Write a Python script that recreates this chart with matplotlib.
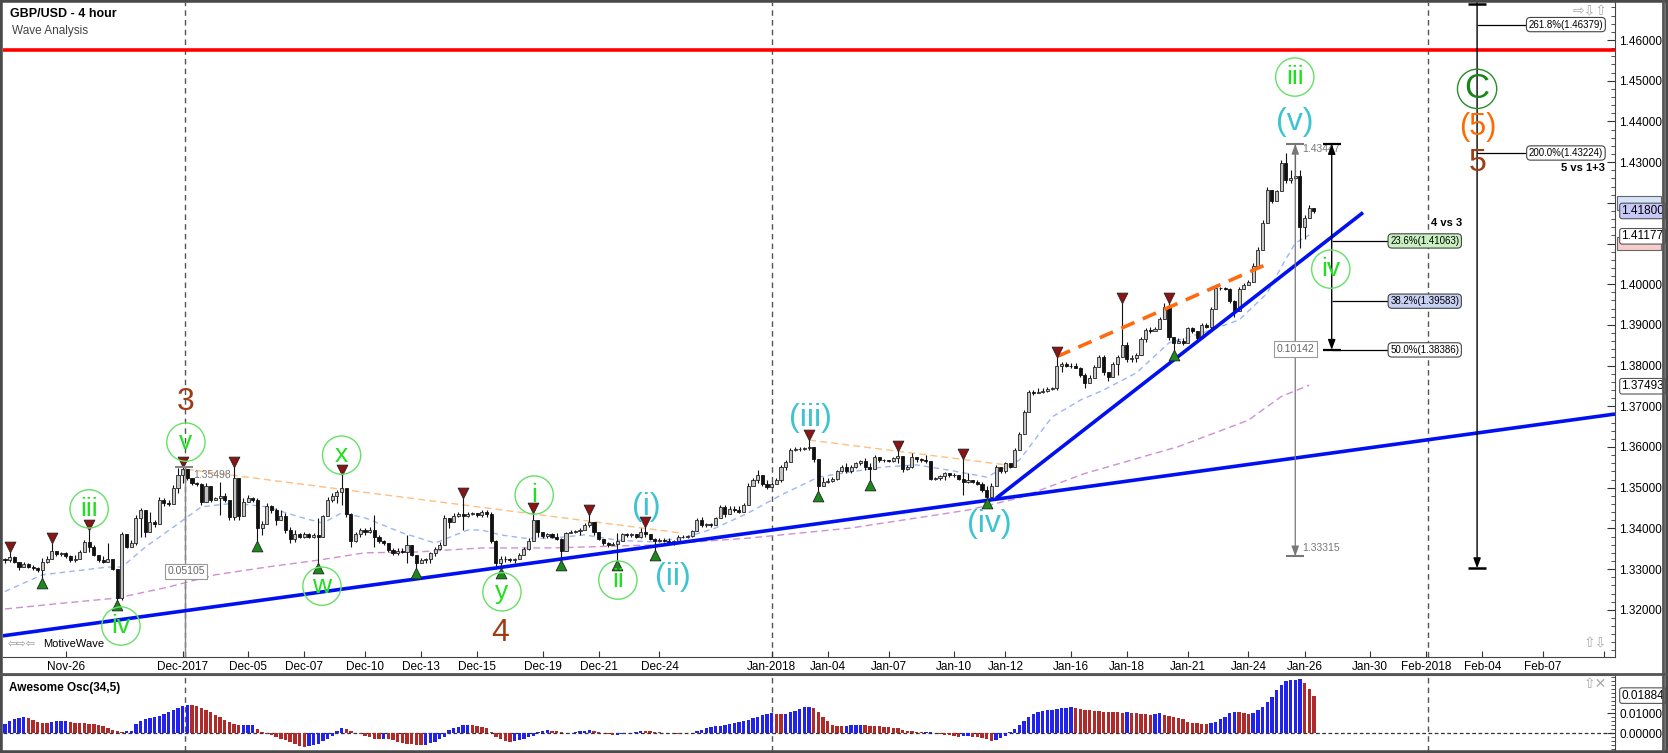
import numpy as np
import matplotlib
matplotlib.use("Agg")
import matplotlib.pyplot as plt
import matplotlib.transforms as mtrans
from matplotlib.lines import Line2D
from matplotlib.patches import Rectangle
from matplotlib.ticker import FixedLocator, MultipleLocator, FuncFormatter

plt.rcParams['font.family'] = ['Liberation Sans', 'DejaVu Sans']

# ---- candles (4h bars, index = bar number) ----
first_open = 1.3325
close = [
    1.3322, 1.3330, 1.3318, 1.3305, 1.3312, 1.3306, 1.3302, 1.3298, 1.3318, 1.3325,
    1.3345, 1.3337, 1.3339, 1.3331, 1.3322, 1.3325, 1.3343, 1.3367, 1.3355, 1.3335,
    1.3322, 1.3318, 1.3325, 1.3300, 1.3230, 1.3385, 1.3355, 1.3363, 1.3425, 1.3445,
    1.3390, 1.3415, 1.3410, 1.3470, 1.3462, 1.3460, 1.3500, 1.3530, 1.3545, 1.3525,
    1.3512, 1.3508, 1.3465, 1.3505, 1.3470, 1.3475, 1.3480, 1.3470, 1.3428, 1.3525,
    1.3430, 1.3465, 1.3475, 1.3470, 1.3400, 1.3410, 1.3455, 1.3445, 1.3420, 1.3430,
    1.3395, 1.3375, 1.3385, 1.3380, 1.3385, 1.3380, 1.3383, 1.3378, 1.3430, 1.3470,
    1.3480, 1.3490, 1.3500, 1.3435, 1.3370, 1.3385, 1.3395, 1.3390, 1.3395, 1.3380,
    1.3370, 1.3363, 1.3347, 1.3340, 1.3345, 1.3343, 1.3360, 1.3335, 1.3315, 1.3322,
    1.3325, 1.3340, 1.3350, 1.3360, 1.3425, 1.3415, 1.3430, 1.3435, 1.3430, 1.3435,
    1.3437, 1.3432, 1.3440, 1.3435, 1.3370, 1.3315, 1.3325, 1.3325, 1.3322, 1.3325,
    1.3335, 1.3350, 1.3370, 1.3420, 1.3390, 1.3382, 1.3385, 1.3380, 1.3375, 1.3345,
    1.3388, 1.3392, 1.3393, 1.3395, 1.3408, 1.3415, 1.3390, 1.3375, 1.3363, 1.3360,
    1.3362, 1.3370, 1.3385, 1.3384, 1.3386, 1.3380, 1.3390, 1.3386, 1.3375, 1.3368,
    1.3372, 1.3370, 1.3366, 1.3368, 1.3380, 1.3378, 1.3382, 1.3394, 1.3420, 1.3408,
    1.3410, 1.3409, 1.3425, 1.3452, 1.3435, 1.3448, 1.3446, 1.3440, 1.3458, 1.3505,
    1.3518, 1.3530, 1.3508, 1.3502, 1.3510, 1.3520, 1.3550, 1.3562, 1.3592, 1.3595,
    1.3596, 1.3597, 1.3600, 1.3570, 1.3505, 1.3515, 1.3516, 1.3522, 1.3540, 1.3550,
    1.3540, 1.3552, 1.3560, 1.3565, 1.3550, 1.3545, 1.3575, 1.3568, 1.3567, 1.3566,
    1.3572, 1.3578, 1.3545, 1.3550, 1.3575, 1.3570, 1.3568, 1.3565, 1.3522, 1.3523,
    1.3528, 1.3535, 1.3530, 1.3532, 1.3522, 1.3515, 1.3520, 1.3514, 1.3510, 1.3495,
    1.3478, 1.3505, 1.3550, 1.3540, 1.3560, 1.3552, 1.3592, 1.3633, 1.3685, 1.3735,
    1.3733, 1.3736, 1.3738, 1.3742, 1.3745, 1.3800, 1.3805, 1.3800, 1.3798, 1.3795,
    1.3778, 1.3758, 1.3770, 1.3797, 1.3820, 1.3785, 1.3772, 1.3805, 1.3820, 1.3850,
    1.3815, 1.3818, 1.3826, 1.3866, 1.3888, 1.3885, 1.3890, 1.3915, 1.3945, 1.3870,
    1.3855, 1.3860, 1.3855, 1.3892, 1.3884, 1.3868, 1.3900, 1.3896, 1.3940, 1.3990,
    1.3990, 1.3988, 1.3958, 1.3935, 1.3988, 1.3998, 1.4005, 1.4045, 1.4085, 1.4150,
    1.4232, 1.4205, 1.4228, 1.4298, 1.4255, 1.4260, 1.4265, 1.4141, 1.4162, 1.4188, 1.4180,
]
high = [
    1.3327, 1.3343, 1.3331, 1.3318, 1.3318, 1.3314, 1.3310, 1.3306, 1.3327, 1.3331,
    1.3363, 1.3343, 1.3343, 1.3343, 1.3335, 1.3335, 1.3347, 1.3371, 1.3396, 1.3359,
    1.3335, 1.3331, 1.3363, 1.3318, 1.3298, 1.3392, 1.3367, 1.3371, 1.3433, 1.3449,
    1.3437, 1.3441, 1.3421, 1.3478, 1.3474, 1.3470, 1.3507, 1.3548, 1.3550, 1.3544,
    1.3523, 1.3515, 1.3511, 1.3511, 1.3490, 1.3478, 1.3515, 1.3486, 1.3470, 1.3552,
    1.3511, 1.3474, 1.3482, 1.3478, 1.3474, 1.3417, 1.3462, 1.3458, 1.3449, 1.3445,
    1.3437, 1.3404, 1.3396, 1.3388, 1.3392, 1.3388, 1.3388, 1.3425, 1.3433, 1.3478,
    1.3486, 1.3494, 1.3531, 1.3498, 1.3437, 1.3392, 1.3400, 1.3400, 1.3404, 1.3433,
    1.3384, 1.3371, 1.3363, 1.3351, 1.3351, 1.3351, 1.3384, 1.3359, 1.3331, 1.3327,
    1.3327, 1.3343, 1.3355, 1.3367, 1.3433, 1.3421, 1.3437, 1.3441, 1.3474, 1.3441,
    1.3441, 1.3437, 1.3445, 1.3445, 1.3441, 1.3371, 1.3331, 1.3331, 1.3327, 1.3327,
    1.3339, 1.3355, 1.3376, 1.3437, 1.3396, 1.3388, 1.3388, 1.3388, 1.3388, 1.3376,
    1.3392, 1.3396, 1.3396, 1.3400, 1.3413, 1.3433, 1.3413, 1.3388, 1.3371, 1.3367,
    1.3367, 1.3388, 1.3388, 1.3388, 1.3388, 1.3384, 1.3400, 1.3404, 1.3384, 1.3376,
    1.3376, 1.3376, 1.3376, 1.3371, 1.3384, 1.3384, 1.3384, 1.3396, 1.3425, 1.3429,
    1.3413, 1.3413, 1.3429, 1.3458, 1.3458, 1.3454, 1.3454, 1.3454, 1.3462, 1.3511,
    1.3523, 1.3544, 1.3531, 1.3519, 1.3515, 1.3523, 1.3556, 1.3568, 1.3597, 1.3601,
    1.3601, 1.3601, 1.3617, 1.3597, 1.3568, 1.3527, 1.3523, 1.3527, 1.3544, 1.3556,
    1.3560, 1.3556, 1.3564, 1.3568, 1.3572, 1.3560, 1.3580, 1.3572, 1.3570, 1.3568,
    1.3576, 1.3589, 1.3564, 1.3556, 1.3585, 1.3572, 1.3572, 1.3580, 1.3556, 1.3527,
    1.3531, 1.3539, 1.3535, 1.3535, 1.3531, 1.3570, 1.3535, 1.3519, 1.3519, 1.3515,
    1.3503, 1.3511, 1.3556, 1.3548, 1.3564, 1.3560, 1.3597, 1.3638, 1.3691, 1.3740,
    1.3740, 1.3744, 1.3744, 1.3748, 1.3748, 1.3822, 1.3810, 1.3810, 1.3806, 1.3806,
    1.3797, 1.3781, 1.3777, 1.3801, 1.3826, 1.3826, 1.3785, 1.3810, 1.3826, 1.3953,
    1.3859, 1.3826, 1.3830, 1.3871, 1.3892, 1.3896, 1.3896, 1.3920, 1.3953, 1.3955,
    1.3867, 1.3867, 1.3867, 1.3896, 1.3896, 1.3884, 1.3904, 1.3904, 1.3945, 1.3994,
    1.3994, 1.3994, 1.3990, 1.3961, 1.3994, 1.4002, 1.4010, 1.4051, 1.4092, 1.4158,
    1.4240, 1.4215, 1.4232, 1.4305, 1.4322, 1.4281, 1.4345, 1.4281, 1.4170, 1.4194, 1.4186,
]
low = [
    1.3316, 1.3318, 1.3314, 1.3298, 1.3306, 1.3302, 1.3298, 1.3294, 1.3277, 1.3314,
    1.3331, 1.3331, 1.3331, 1.3327, 1.3318, 1.3318, 1.3327, 1.3343, 1.3343, 1.3331,
    1.3318, 1.3314, 1.3318, 1.3298, 1.3224, 1.3224, 1.3351, 1.3359, 1.3359, 1.3380,
    1.3380, 1.3409, 1.3404, 1.3413, 1.3454, 1.3454, 1.3462, 1.3486, 1.3511, 1.3519,
    1.3507, 1.3503, 1.3458, 1.3494, 1.3466, 1.3470, 1.3433, 1.3466, 1.3421, 1.3421,
    1.3421, 1.3458, 1.3466, 1.3466, 1.3370, 1.3384, 1.3413, 1.3437, 1.3409, 1.3421,
    1.3388, 1.3363, 1.3367, 1.3376, 1.3376, 1.3376, 1.3376, 1.3314, 1.3380, 1.3433,
    1.3466, 1.3462, 1.3458, 1.3429, 1.3355, 1.3367, 1.3380, 1.3384, 1.3388, 1.3355,
    1.3363, 1.3359, 1.3343, 1.3335, 1.3335, 1.3339, 1.3314, 1.3331, 1.3302, 1.3318,
    1.3314, 1.3314, 1.3331, 1.3347, 1.3367, 1.3400, 1.3417, 1.3429, 1.3396, 1.3429,
    1.3433, 1.3429, 1.3429, 1.3429, 1.3363, 1.3306, 1.3302, 1.3318, 1.3318, 1.3314,
    1.3327, 1.3335, 1.3347, 1.3371, 1.3380, 1.3376, 1.3376, 1.3376, 1.3371, 1.3322,
    1.3363, 1.3388, 1.3388, 1.3384, 1.3396, 1.3404, 1.3384, 1.3371, 1.3359, 1.3355,
    1.3359, 1.3322, 1.3376, 1.3380, 1.3380, 1.3376, 1.3376, 1.3380, 1.3371, 1.3347,
    1.3367, 1.3367, 1.3363, 1.3359, 1.3371, 1.3376, 1.3376, 1.3380, 1.3396, 1.3404,
    1.3404, 1.3404, 1.3409, 1.3425, 1.3429, 1.3441, 1.3441, 1.3437, 1.3449, 1.3462,
    1.3507, 1.3511, 1.3503, 1.3498, 1.3507, 1.3515, 1.3515, 1.3544, 1.3568, 1.3589,
    1.3589, 1.3593, 1.3593, 1.3564, 1.3493, 1.3511, 1.3511, 1.3515, 1.3519, 1.3539,
    1.3535, 1.3535, 1.3548, 1.3556, 1.3544, 1.3520, 1.3556, 1.3564, 1.3564, 1.3564,
    1.3564, 1.3560, 1.3539, 1.3544, 1.3548, 1.3564, 1.3564, 1.3560, 1.3519, 1.3519,
    1.3519, 1.3519, 1.3527, 1.3527, 1.3519, 1.3482, 1.3511, 1.3511, 1.3507, 1.3490,
    1.3474, 1.3478, 1.3511, 1.3535, 1.3535, 1.3548, 1.3552, 1.3593, 1.3634, 1.3691,
    1.3728, 1.3732, 1.3732, 1.3736, 1.3740, 1.3740, 1.3785, 1.3797, 1.3793, 1.3793,
    1.3773, 1.3744, 1.3765, 1.3773, 1.3797, 1.3777, 1.3761, 1.3777, 1.3777, 1.3822,
    1.3810, 1.3810, 1.3810, 1.3826, 1.3859, 1.3879, 1.3888, 1.3892, 1.3916, 1.3863,
    1.3838, 1.3855, 1.3851, 1.3875, 1.3879, 1.3863, 1.3879, 1.3892, 1.3888, 1.3941,
    1.3986, 1.3986, 1.3953, 1.3920, 1.3953, 1.3990, 1.3998, 1.4010, 1.4043, 1.4088,
    1.4154, 1.4199, 1.4211, 1.4232, 1.4248, 1.4248, 1.4256, 1.4088, 1.4112, 1.4166, 1.4174,
]

# Awesome Oscillator (34,5)
ao_vals = [
    0.0047, 0.0063, 0.0073, 0.0078, 0.0080, 0.0075, 0.0067, 0.0057, 0.0053, 0.0052,
    0.0057, 0.0060, 0.0062, 0.0063, 0.0058, 0.0054, 0.0052, 0.0050, 0.0049, 0.0047,
    0.0043, 0.0036, 0.0028, 0.0015, 0.0010, 0.0008, 0.0010, 0.0013, 0.0045, 0.0060,
    0.0070, 0.0075, 0.0080, 0.0088, 0.0095, 0.0105, 0.0118, 0.0128, 0.0138, 0.0142,
    0.0140, 0.0136, 0.0128, 0.0118, 0.0105, 0.0092, 0.0080, 0.0068, 0.0058, 0.0048,
    0.0040, 0.0042, 0.0043, 0.0044, 0.0020, 0.0005, -0.0005, -0.0010, -0.0018, -0.0026,
    -0.0035, -0.0045, -0.0055, -0.0063, -0.0066, -0.0065, -0.0060, -0.0052, -0.0040, -0.0028,
    -0.0012, 0.0012, 0.0028, 0.0022, 0.0012, 0.0004, -0.0004, -0.0012, -0.0020, -0.0026,
    -0.0028, -0.0027, -0.0029, -0.0033, -0.0045, -0.0050, -0.0053, -0.0055, -0.0057, -0.0058,
    -0.0057, -0.0050, -0.0042, -0.0030, -0.0017, 0.0015, 0.0025, 0.0033, 0.0040, 0.0042,
    0.0041, 0.0038, 0.0032, 0.0025, 0.0008, -0.0017, -0.0030, -0.0040, -0.0042, -0.0038,
    -0.0033, -0.0027, -0.0020, -0.0015, 0.0008, 0.0013, 0.0017, 0.0014, 0.0010, 0.0006,
    0.0003, 0.0002, 0.0005, 0.0010, 0.0014, 0.0017, 0.0013, 0.0008, 0.0003, -0.0003,
    -0.0008, -0.0006, -0.0004, 0.0000, 0.0004, 0.0008, 0.0012, 0.0011, 0.0010, 0.0008,
    0.0005, 0.0003, 0.0002, 0.0000, -0.0002, 0.0000, 0.0002, 0.0004, 0.0010, 0.0015,
    0.0025, 0.0032, 0.0035, 0.0038, 0.0040, 0.0048, 0.0052, 0.0055, 0.0060, 0.0067,
    0.0075, 0.0082, 0.0090, 0.0098, 0.0100, 0.0097, 0.0096, 0.0097, 0.0105, 0.0113,
    0.0123, 0.0130, 0.0133, 0.0125, 0.0105, 0.0080, 0.0060, 0.0040, 0.0037, 0.0035,
    0.0036, 0.0040, 0.0042, 0.0043, 0.0040, 0.0038, 0.0036, 0.0035, 0.0032, 0.0030,
    0.0028, 0.0027, 0.0015, 0.0012, 0.0010, 0.0008, 0.0006, 0.0007, 0.0008, 0.0003,
    -0.0002, -0.0007, -0.0010, -0.0012, -0.0018, -0.0015, -0.0013, -0.0016, -0.0020, -0.0025,
    -0.0030, -0.0040, -0.0035, -0.0025, -0.0012, 0.0005, 0.0020, 0.0040, 0.0060, 0.0080,
    0.0095, 0.0105, 0.0112, 0.0115, 0.0117, 0.0120, 0.0125, 0.0128, 0.0130, 0.0128,
    0.0122, 0.0118, 0.0115, 0.0112, 0.0110, 0.0108, 0.0107, 0.0106, 0.0105, 0.0104,
    0.0106, 0.0103, 0.0100, 0.0098, 0.0097, 0.0094, 0.0098, 0.0100, 0.0094, 0.0088,
    0.0080, 0.0075, 0.0070, 0.0058, 0.0053, 0.0050, 0.0049, 0.0047, 0.0053, 0.0058,
    0.0070, 0.0083, 0.0103, 0.0107, 0.0106, 0.0103, 0.0097, 0.0100, 0.0117, 0.0130,
    0.0158, 0.0183, 0.0217, 0.0242, 0.0263, 0.0267, 0.0268, 0.0270, 0.0250, 0.0220, 0.0188,
]

# moving averages (bar, value)
ma_fast_x = [0, 8, 22, 25, 30, 36, 42, 49, 56, 63, 68, 72, 77, 85, 92, 99, 102, 106, 111, 117,
             124, 131, 138, 145, 152, 159, 166, 174, 181, 188, 195, 202, 210, 217, 224, 230,
             235, 242, 249, 256, 264, 270, 273, 276, 279]
ma_fast_y = [1.3245, 1.3286, 1.3305, 1.3305, 1.3354, 1.3403, 1.3453, 1.3462, 1.3453, 1.3428,
             1.3413, 1.3438, 1.3426, 1.3389, 1.3364, 1.3396, 1.3396, 1.3384, 1.3376, 1.3376,
             1.3384, 1.3371, 1.3367, 1.3376, 1.3401, 1.3438, 1.3482, 1.3526, 1.3539, 1.3551,
             1.3556, 1.3543, 1.3526, 1.3568, 1.3674, 1.3715, 1.3740, 1.3782, 1.3856, 1.3880,
             1.3912, 1.3978, 1.4042, 1.4101, 1.4121]
ma_slow_x = [0, 13, 24, 35, 45, 56, 67, 77, 88, 102, 117, 138, 159, 181, 206, 217, 231, 251,
             266, 273, 279]
ma_slow_y = [1.3202, 1.3217, 1.3229, 1.3256, 1.3286, 1.3305, 1.3322, 1.3340, 1.3342, 1.3352,
             1.3352, 1.3359, 1.3376, 1.3401, 1.3445, 1.3475, 1.3535, 1.3601, 1.3666, 1.3724,
             1.3752]

# drawn lines
resistance = 1.4575
trend_long_x, trend_long_y = [-0.5, 344.4], [1.3136, 1.3681]
trend_steep_x, trend_steep_y = [212, 290.5], [1.3474, 1.4176]
wedge_top_x, wedge_top_y = [225, 269.5], [1.3822, 1.4047]
fade1_x, fade1_y = [38.9, 144.4], [1.3545, 1.3389]
fade2_x, fade2_y = [172, 217], [1.3617, 1.3552]

# swing markers
top_marks = [1, 10, 18, 38, 49, 72, 98, 113, 125, 137, 172, 191, 205, 225, 239, 249]
bottom_marks = [8, 24, 54, 67, 88, 106, 119, 131, 139, 174, 185, 210, 250]

# wave labels
circ_text = ['iii', 'v', 'iv', 'w', 'x', 'y', 'i', 'ii', 'iii', 'iv']
circ_x = [18, 38.7, 24.8, 67.8, 72, 106.3, 113.2, 131.1, 275.9, 283.6]
circ_y = [1.3448, 1.3612, 1.3160, 1.3258, 1.3580, 1.3244, 1.3482, 1.3273, 1.4509, 1.4037]
minor_text = ['(i)', '(ii)', '(iii)', '(iv)', '(v)']
minor_x = [137.1, 142.9, 172.2, 210.5, 276]
minor_y = [1.3453, 1.3280, 1.3671, 1.3411, 1.4399]
major_text = ['3', '4', '5']
major_x = [38.7, 106, 315]
major_y = [1.3711, 1.3143, 1.4298]

# fibonacci projections
fib4_x = 283.8
fib4_top, fib4_bot = 1.43447, 1.38386
fib4_levels = [1.41063, 1.39583, 1.38386]
fib4_text = ['23.6%(1.41063)', '38.2%(1.39583)', '50.0%(1.38386)']
fib4_fc = ['#c9f0c0', '#c8d0f4', '#ffffff']
fib5_x = 314.9
fib5_bot = 1.3302
fib5_levels = [1.46379, 1.43224]
fib5_text = ['261.8%(1.46379)', '200.0%(1.43224)']
meas_x, meas_top, meas_bot = 276, 1.43447, 1.33315

tick_pos = [13, 38, 52, 64, 77, 89, 101, 115, 127, 140, 164, 176, 189, 203, 214, 228, 240,
            253, 266, 278, 292, 304, 316, 329, 342]
tick_labels = ['Nov-26', 'Dec-2017', 'Dec-05', 'Dec-07', 'Dec-10', 'Dec-13', 'Dec-15',
               'Dec-19', 'Dec-21', 'Dec-24', 'Jan-2018', 'Jan-04', 'Jan-07', 'Jan-10',
               'Jan-12', 'Jan-16', 'Jan-18', 'Jan-21', 'Jan-24', 'Jan-26', 'Jan-30',
               'Feb-2018', 'Feb-04', 'Feb-07', '']
month_lines = [38.4, 164.1, 304.4]

# price tags on the right scale
tag_y = [1.41800, 1.41177, 1.37493]
tag_text = ['1.41800', '1.41177', '1.37493']
tag_fc = ['#c8c8f8', '#ffffff', '#ffffff']
hidden_tag_y = [1.41995, 1.41012]
hidden_tag_fc = ['#d6e4fa', '#f6cccc']
ao_last = 0.01884

W, H = 1668, 753
fig = plt.figure(figsize=(W / 100, H / 100), dpi=100)
fig.patch.set_facecolor('white')
ax = fig.add_axes([3 / W, 1 - 657 / H, 1612 / W, 655 / H])
ax2 = fig.add_axes([3 / W, 1 - 751 / H, 1612 / W, 76 / H])

XL = (-0.43, 344.4)
for a in (ax, ax2):
    a.set_xlim(*XL)
    a.set_facecolor('white')
ax.set_ylim(1.30840, 1.46934)
ax2.set_ylim(-0.00885, 0.02915)

x = np.arange(len(close))
c = np.array(close)
o = np.concatenate([[first_open], c[:-1]])
hi = np.maximum(np.array(high), np.maximum(o, c))
lo = np.minimum(np.array(low), np.minimum(o, c))
up = c >= o
body_lo = np.minimum(o, c)
body_h = np.maximum(np.abs(c - o), 0.00006)

# moving averages and faint channel lines
ax.plot(ma_fast_x, ma_fast_y, color='#9db6f2', lw=1, dashes=(4, 3), zorder=2)
ax.plot(ma_slow_x, ma_slow_y, color='#cf8fd4', lw=1, dashes=(5, 3), zorder=2)
ax.plot(fade1_x, fade1_y, color='#ffbf80', lw=1, dashes=(5, 3), zorder=2)
ax.plot(fade2_x, fade2_y, color='#ffbf80', lw=1, dashes=(5, 3), zorder=2)

# candles
ax.vlines(x, lo, hi, color='#111111', lw=0.8, zorder=3)
ax.bar(x[up], body_h[up], bottom=body_lo[up], width=0.66, color='#c4c4c4',
       edgecolor='#222222', linewidth=0.6, zorder=4)
ax.bar(x[~up], body_h[~up], bottom=body_lo[~up], width=0.66, color='#111111',
       edgecolor='#111111', linewidth=0.6, zorder=4)

# swing markers
up_off = mtrans.offset_copy(ax.transData, fig=fig, y=5, units='dots')
dn_off = mtrans.offset_copy(ax.transData, fig=fig, y=-5, units='dots')
ax.scatter(top_marks, hi[top_marks], marker='v', s=60, color='#8b1414',
           edgecolors='#222222', linewidths=0.6, transform=up_off, zorder=6)
ax.scatter(bottom_marks, lo[bottom_marks], marker='^', s=60, color='#1b8a1b',
           edgecolors='#222222', linewidths=0.6, transform=dn_off, zorder=6)

# trend lines
ax.axhline(resistance, color='#ff0000', lw=2.6, zorder=5)
ax.plot(trend_long_x, trend_long_y, color='#0010f0', lw=2.6, zorder=5, solid_capstyle='butt')
ax.plot(trend_steep_x, trend_steep_y, color='#0010f0', lw=2.6, zorder=5, solid_capstyle='butt')
ax.plot(wedge_top_x, wedge_top_y, color='#ff6a10', lw=2.6, dashes=(4, 2.5), zorder=5)

for m in month_lines:
    for a in (ax, ax2):
        a.axvline(m, color='#555555', lw=1, dashes=(4, 3), zorder=1)

# grey measurement from wave 3 top
ax.plot([38.6, 38.6], [1.3550, 1.3084], color='#888888', lw=1, zorder=2)
ax.hlines(1.3551, 36.4, 40.2, color='#888888', lw=1.5, zorder=6)
ax.text(40.2, 1.3531, '1.35498', fontsize=7.5, color='#777777', va='center', ha='left', zorder=6)
ax.text(38.7, 1.3295, '0.05105', fontsize=7.5, color='#666666', ha='center', va='center', zorder=7,
        bbox=dict(boxstyle='square,pad=0.25', fc='white', ec='#999999', lw=0.8))

# grey measurement at wave (v)
ax.annotate('', xy=(meas_x, meas_top), xytext=(meas_x, meas_bot),
            arrowprops=dict(arrowstyle='<|-|>,head_length=0.6,head_width=0.22', color='#777777',
                            lw=0.9, shrinkA=0, shrinkB=0), zorder=6)
ax.hlines([meas_top, meas_bot], meas_x - 1.9, meas_x + 1.9, color='#777777', lw=1.5, zorder=6)
ax.text(meas_x + 1.5, 1.4332, '1.43447', fontsize=7.5, color='#777777', va='center', zorder=6)
ax.text(meas_x + 1.5, 1.3352, '1.33315', fontsize=7.5, color='#777777', va='center', zorder=6)
ax.text(meas_x, 1.3841, '0.10142', fontsize=7.5, color='#666666', ha='center', va='center', zorder=7,
        bbox=dict(boxstyle='square,pad=0.25', fc='white', ec='#999999', lw=0.8))

# wave 4 vs 3 projection
ax.annotate('', xy=(fib4_x, fib4_top), xytext=(fib4_x, fib4_bot),
            arrowprops=dict(arrowstyle='<|-|>,head_length=0.6,head_width=0.22', color='black',
                            lw=1, shrinkA=0, shrinkB=0), zorder=6)
ax.hlines([fib4_top, fib4_bot], fib4_x - 1.9, fib4_x + 1.9, color='black', lw=1.6, zorder=6)
ax.hlines(fib4_levels, fib4_x, 295.8, color='black', lw=0.9, zorder=6)
for lv, t, fc in zip(fib4_levels, fib4_text, fib4_fc):
    ax.text(303.7, lv, t, fontsize=7, ha='center', va='center', zorder=7,
            bbox=dict(boxstyle='round,pad=0.22,rounding_size=0.4', fc=fc, ec='#444444', lw=0.8))
ax.text(308.4, 1.4150, '4 vs 3', fontsize=8, fontweight='bold', ha='center', va='center', zorder=7)

# wave 5 vs 1+3 projection
ax.annotate('', xy=(fib5_x, fib5_bot), xytext=(fib5_x, 1.4693),
            arrowprops=dict(arrowstyle='-|>,head_length=0.6,head_width=0.22', color='black',
                            lw=1, shrinkA=0, shrinkB=0), zorder=6)
ax.hlines([1.4689, fib5_bot], fib5_x - 1.9, fib5_x + 1.9, color='black', lw=1.8, zorder=6)
ax.hlines(fib5_levels, fib5_x, 325.6, color='black', lw=0.9, zorder=6)
for lv, t in zip(fib5_levels, fib5_text):
    ax.text(333.9, lv, t, fontsize=7, ha='center', va='center', zorder=7,
            bbox=dict(boxstyle='round,pad=0.22,rounding_size=0.4', fc='white', ec='#444444', lw=0.8))
ax.text(342.2, 1.42855, '5 vs 1+3', fontsize=8, fontweight='bold', ha='right', va='center', zorder=7)

# wave labels
ax.scatter(circ_x, circ_y, s=760, facecolors='none', edgecolors='#66e066', linewidths=1, zorder=7)
for t, xx, yy in zip(circ_text, circ_x, circ_y):
    ax.text(xx, yy, t, fontsize=19, color='#1ee01e', ha='center', va='center', zorder=8)
for t, xx, yy in zip(minor_text, minor_x, minor_y):
    ax.text(xx, yy, t, fontsize=23, color='#3ec4d0', ha='center', va='center', zorder=8)
for t, xx, yy in zip(major_text, major_x, major_y):
    ax.text(xx, yy, t, fontsize=23, color='#a03c14', ha='center', va='center', zorder=8)
ax.scatter([314.9], [1.4480], s=800, facecolors='none', edgecolors='#2a8c2a', linewidths=1, zorder=7)
ax.text(314.9, 1.4480, 'C', fontsize=25, color='#17851a', ha='center', va='center', zorder=8)
ax.text(315, 1.4386, '(5)', fontsize=22, color='#ff6a00', ha='center', va='center', zorder=8)

# price axis
ytick_vals = np.round(np.arange(1.32, 1.4601, 0.01), 2)
ax.yaxis.tick_right()
ax.yaxis.set_major_locator(FixedLocator(ytick_vals))
ax.yaxis.set_minor_locator(MultipleLocator(0.002))
# the 1.42 label sits under the price tags, as in the source chart
ax.yaxis.set_major_formatter(FuncFormatter(lambda v, _: '' if abs(v - 1.42) < 1e-6 else f'{v:.5f}'))
ax.tick_params(axis='y', which='major', direction='in', length=6, labelsize=8.5, pad=3, color='#333333')
ax.tick_params(axis='y', which='minor', direction='in', length=3, color='#333333')
ax.set_xticks(tick_pos)
ax.set_xticklabels(tick_labels)
ax.tick_params(axis='x', direction='in', length=4, labelsize=8.5, pad=3, color='#333333')
for s in ('top', 'left'):
    ax.spines[s].set_visible(False)
for s in ('right', 'bottom'):
    ax.spines[s].set_color('#444444')

# AO panel
ao = np.array(ao_vals)
ao_col = ['#2222ee'] + ['#2222ee' if ao[i] > ao[i - 1] else '#b02a2a' for i in range(1, len(ao))]
ax2.bar(x, ao, width=0.72, color=ao_col, linewidth=0, zorder=3)
ax2.axhline(0, color='#333333', lw=0.9, dashes=(3, 2), zorder=2)
ax2.yaxis.tick_right()
ax2.set_yticks([0.0, 0.01])
ax2.yaxis.set_major_formatter(FuncFormatter(lambda v, _: f'{v:.5f}'))
ax2.yaxis.set_minor_locator(MultipleLocator(0.002))
ax2.tick_params(axis='y', which='major', direction='in', length=6, labelsize=8.5, pad=3, color='#333333')
ax2.tick_params(axis='y', which='minor', direction='in', length=3, color='#333333')
ax2.set_xticks([])
for s in ('left', 'bottom'):
    ax2.spines[s].set_visible(False)
for s in ('top', 'right'):
    ax2.spines[s].set_color('#444444')
ax2.text(0.004, 0.83, 'Awesome Osc(34,5)', transform=ax2.transAxes, fontsize=8.5,
         fontweight='bold', va='center')

# value tags on the right axis
bt = mtrans.blended_transform_factory(ax.transAxes, ax.transData)
for yy, fc in zip(hidden_tag_y, hidden_tag_fc):
    ax.add_patch(Rectangle((1.0015, yy - 0.0016), 0.027, 0.0032, transform=bt, fc=fc,
                           ec='#666666', lw=0.8, clip_on=False, zorder=9))
for yy, t, fc in zip(tag_y, tag_text, tag_fc):
    ax.text(1.004, yy, t, transform=bt, fontsize=8.5, ha='left', va='center', zorder=10,
            clip_on=False, bbox=dict(boxstyle='round,pad=0.15,rounding_size=0.2', fc=fc,
                                     ec='#555555', lw=0.8))
bt2 = mtrans.blended_transform_factory(ax2.transAxes, ax2.transData)
ax2.text(1.004, ao_last, f'{ao_last:.5f}', transform=bt2, fontsize=8.5, ha='left', va='center',
         zorder=10, clip_on=False, bbox=dict(boxstyle='round,pad=0.15,rounding_size=0.2',
                                             fc='white', ec='#555555', lw=0.8))

# header and small widgets
fig.text(10 / W, 1 - 14 / H, 'GBP/USD - 4 hour', fontsize=9, fontweight='bold', va='center')
fig.text(12 / W, 1 - 31 / H, 'Wave Analysis', fontsize=8.5, color='#444444', va='center')
ax.text(0.003, 0.02, '⇦⇨⇦', transform=ax.transAxes, fontsize=8, color='#999999',
        family='DejaVu Sans', va='center')
ax.text(0.025, 0.02, 'MotiveWave', transform=ax.transAxes, fontsize=8, va='center')
ax.text(0.995, 0.985, '⇨⇩⇧', transform=ax.transAxes, fontsize=10, color='#aaaaaa',
        family='DejaVu Sans', ha='right', va='center')
ax.text(0.995, 0.02, '⇧⇩', transform=ax.transAxes, fontsize=10, color='#aaaaaa',
        family='DejaVu Sans', ha='right', va='center')
ax2.text(0.995, 0.88, '⇧✕', transform=ax2.transAxes, fontsize=10, color='#aaaaaa',
         family='DejaVu Sans', ha='right', va='center')

# frame
fig.add_artist(Rectangle((0, 0), 1, 1, transform=fig.transFigure, fill=False,
                         ec='#4a4a4a', lw=4))
fig.add_artist(Line2D([0, 1], [1 - 674 / H] * 2, transform=fig.transFigure, color='#555555', lw=2))
fig.add_artist(Line2D([1663 / W] * 2, [0, 1], transform=fig.transFigure, color='#555555', lw=2))

plt.savefig('out.png', dpi=100)
